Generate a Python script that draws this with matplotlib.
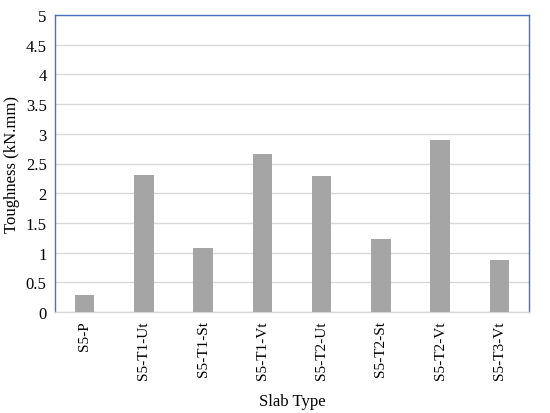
import matplotlib.pyplot as plt
import numpy as np

# slab types and toughness values
slab_types = ['S5-P', 'S5-T1-Ut', 'S5-T1-St', 'S5-T1-Vt', 'S5-T2-Ut', 'S5-T2-St', 'S5-T2-Vt', 'S5-T3-Vt']
toughness = [0.28, 2.30, 1.08, 2.66, 2.29, 1.23, 2.90, 0.88]
yticks = [0, 0.5, 1, 1.5, 2, 2.5, 3, 3.5, 4, 4.5, 5]
ytick_labels = ['0', '0.5', '1', '1.5', '2', '2.5', '3', '3.5', '4', '4.5', '5']

plt.rcParams['font.family'] = ['Liberation Serif', 'DejaVu Serif']

fig = plt.figure(figsize=(5.5, 4.14), dpi=100)
ax = fig.add_axes([55/550, 1 - 313/414, 474/550, 297/414])

x = np.arange(len(slab_types))
ax.bar(x, toughness, width=0.33, color='#A5A5A5', zorder=3)

ax.set_xlim(-0.5, len(slab_types) - 0.5)
ax.set_ylim(0, 5)
ax.set_yticks(yticks)
ax.set_yticklabels(ytick_labels, fontsize=12)
ax.set_xticks(x)
ax.set_xticklabels(slab_types, rotation=90, fontsize=11)
ax.tick_params(length=0, pad=6)
ax.grid(axis='y', color='#D9D9D9', linewidth=1, zorder=0)

for side in ['left', 'right', 'top']:
    ax.spines[side].set_color('#4472C4')
    ax.spines[side].set_linewidth(1)
ax.spines['bottom'].set_color('#D9D9D9')
ax.spines['bottom'].set_linewidth(1)

ax.set_ylabel('Toughness (kN.mm)', fontsize=12, labelpad=4)
ax.set_xlabel('Slab Type', fontsize=12, labelpad=10)

fig.savefig('out.png', dpi=100)
